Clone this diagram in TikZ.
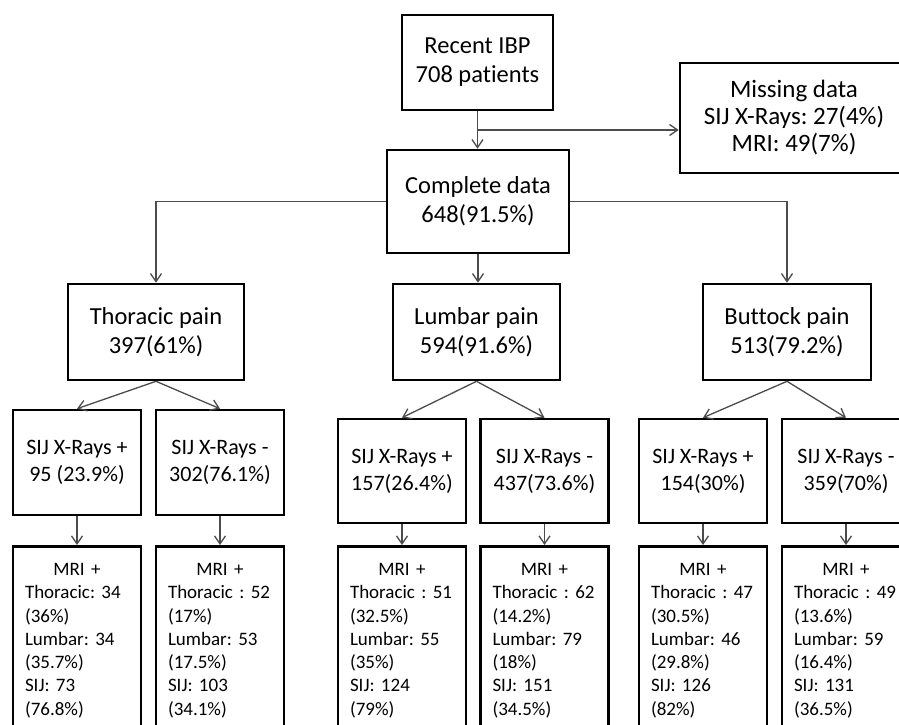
\documentclass[tikz,border=0pt]{standalone}
\usepackage{fontspec}
\setmainfont{Carlito}[Ligatures=NoCommon]
\usetikzlibrary{arrows.meta}
\frenchspacing
\newcommand{\mritext}[6]{\makebox[104pt]{MRI +}\\\mbox{#1}\\\mbox{#2}\\\mbox{#3}\\\mbox{#4}\\\mbox{#5}\\\mbox{#6}}
\begin{document}
\begin{tikzpicture}[x=1pt,y=-1pt,
  box/.style={draw=black, line width=2.6pt, rectangle, inner sep=0pt, align=center, text=black},
  bigbox/.style={box, font=\fontsize{24.5}{29}\selectfont},
  sijbox/.style={box, font=\fontsize{22}{27}\selectfont, minimum width=128pt, minimum height=105pt},
  mribox/.style={draw=black, line width=2.6pt, rectangle, anchor=north, text width=104pt, inner xsep=12pt, inner ysep=17pt, align=left, text=black, font=\fontsize{19}{23.3}\selectfont},
  conn/.style={draw=black!70, line width=1.3pt, -{Straight Barb[length=8pt,width=11pt]}}
]
\useasboundingbox (0,0) rectangle (899,725);
\clip (0,0) rectangle (899,725);
\fill[white] (0,0) rectangle (899,725);

\node[bigbox, minimum width=151pt, minimum height=95pt] (recent) at (477.5,62.5) {Recent IBP\\708 patients};
\node[bigbox, font=\fontsize{25}{27}\selectfont, minimum width=228pt, minimum height=110pt] (missing) at (794,118) {Missing data\\SIJ X-Rays: 27(4\%)\\MRI: 49(7\%)};
\node[bigbox, minimum width=182pt, minimum height=103pt] (complete) at (478,201.5) {Complete data\\648(91.5\%)};
\node[bigbox, minimum width=176pt, minimum height=96pt] (thor) at (156,332) {Thoracic pain\\397(61\%)};
\node[bigbox, minimum width=167pt, minimum height=96pt] (lumb) at (476.5,332) {Lumbar pain\\594(91.6\%)};
\node[bigbox, minimum width=168pt, minimum height=96pt] (butt) at (787,332) {Buttock pain\\513(79.2\%)};

\node[sijbox] (tp) at (77,462.5) {SIJ X-Rays +\\95 (23.9\%)};
\node[sijbox] (tn) at (220,462.5) {SIJ X-Rays -\\302(76.1\%)};
\node[sijbox, minimum height=104pt] (lp) at (402,471) {SIJ X-Rays +\\157(26.4\%)};
\node[sijbox, minimum height=104pt] (ln) at (544.5,471) {SIJ X-Rays -\\437(73.6\%)};
\node[sijbox, minimum height=104pt] (bp) at (703,471) {SIJ X-Rays +\\154(30\%)};
\node[sijbox, minimum height=104pt] (bn) at (846,471) {SIJ X-Rays -\\359(70\%)};

\node[mribox] (tpm) at (77,545) {\mritext{Thoracic: 34}{(36\%)}{Lumbar: 34}{(35.7\%)}{SIJ: 73}{(76.8\%)}};
\node[mribox] (tnm) at (220,545) {\mritext{Thoracic : 52}{(17\%)}{Lumbar: 53}{(17.5\%)}{SIJ: 103}{(34.1\%)}};
\node[mribox] (lpm) at (402,545) {\mritext{Thoracic : 51}{(32.5\%)}{Lumbar: 55}{(35\%)}{SIJ: 124}{(79\%)}};
\node[mribox] (lnm) at (544.5,545) {\mritext{Thoracic : 62}{(14.2\%)}{Lumbar: 79}{(18\%)}{SIJ: 151}{(34.5\%)}};
\node[mribox] (bpm) at (703,545) {\mritext{Thoracic : 47}{(30.5\%)}{Lumbar: 46}{(29.8\%)}{SIJ: 126}{(82\%)}};
\node[mribox] (bnm) at (846,545) {\mritext{Thoracic : 49}{(13.6\%)}{Lumbar: 59}{(16.4\%)}{SIJ: 131}{(36.5\%)}};

\coordinate (br) at (recent.south |- 0,130);
\draw[conn] (recent.south) -- (recent.south |- complete.north);
\draw[conn] (br) -- (br -| missing.west);
\draw[conn] (complete.west) -| (thor.north);
\draw[conn] (complete.east) -| (butt.north);
\draw[conn] (complete.south) -- (complete.south |- lumb.north);

\draw[conn] (thor.south) -- (tp.north);
\draw[conn] (thor.south) -- (tn.north);
\draw[conn] (lumb.south) -- (lp.north);
\draw[conn] (lumb.south) -- (ln.north);
\draw[conn] (butt.south) -- (bp.north);
\draw[conn] (butt.south) -- (bn.north);

\draw[conn] (tp) -- (tpm);
\draw[conn] (tn) -- (tnm);
\draw[conn] (lp) -- (lpm);
\draw[conn] (ln) -- (lnm);
\draw[conn] (bp) -- (bpm);
\draw[conn] (bn) -- (bnm);
\end{tikzpicture}
\end{document}
